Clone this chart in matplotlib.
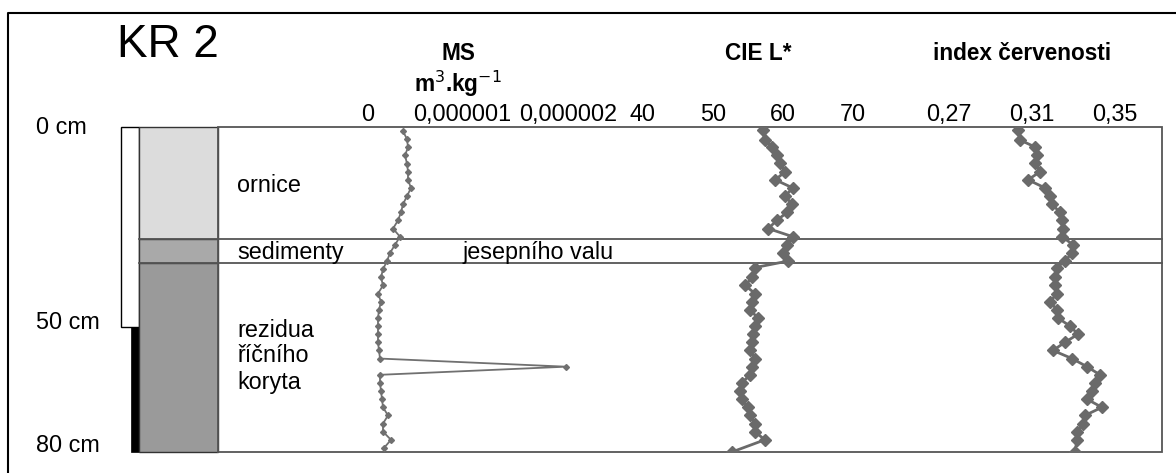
import matplotlib
matplotlib.use('Agg')
import matplotlib.pyplot as plt
from matplotlib.patches import Rectangle
from matplotlib.transforms import ScaledTranslation

plt.rcParams['font.family'] = ['Liberation Sans', 'DejaVu Sans']

# depth of samples (cm)
depth = [1, 3, 5, 7, 9, 11, 13, 15, 17, 19, 21, 23, 25, 27, 29, 31, 33, 35, 37, 39,
         41, 43, 45, 47, 49, 51, 53, 55, 57, 59, 61, 63, 65, 67, 69, 71, 73, 75, 77, 79]

# magnetic susceptibility (x 1e-6 m3/kg)
ms = [0.35, 0.39, 0.40, 0.37, 0.39, 0.40, 0.40, 0.43, 0.39, 0.35, 0.33, 0.30, 0.25, 0.32,
      0.27, 0.22, 0.19, 0.15, 0.13, 0.15, 0.10, 0.13, 0.11, 0.10, 0.10, 0.10, 0.10, 0.11,
      0.12, 1.98, 0.12, 0.12, 0.13, 0.14, 0.15, 0.20, 0.15, 0.15, 0.23, 0.16]

depth_lab = [0.7, 3.2, 4.9, 6.9, 8.9, 11, 13, 15, 17, 19, 21, 23, 25, 27, 29, 31, 33, 34.6,
             37, 39, 41, 43, 45, 47, 49, 51, 53, 55, 57, 59, 61, 63, 65, 67, 69, 71, 73,
             75, 77, 80]

cie_l = [57.1, 57.4, 58.4, 59.1, 59.6, 60.3, 58.9, 61.4, 60.3, 61.3, 60.6, 59.1, 57.9, 61.4,
         60.6, 60.0, 60.7, 56.0, 55.6, 54.6, 56.0, 55.6, 55.3, 56.4, 56.0, 55.7, 55.6, 55.3,
         56.0, 55.6, 55.3, 54.1, 53.9, 54.1, 55.0, 55.3, 56.0, 56.0, 57.4, 52.7]

redness = [0.3033, 0.3042, 0.3114, 0.3124, 0.3114, 0.3139, 0.3081, 0.3163, 0.3187, 0.3196,
           0.3235, 0.3245, 0.3249, 0.3245, 0.3298, 0.3293, 0.3259, 0.3220, 0.3211, 0.3211,
           0.3220, 0.3187, 0.3220, 0.3225, 0.3283, 0.3322, 0.3259, 0.3201, 0.3293, 0.3365,
           0.3428, 0.3404, 0.3389, 0.3365, 0.3437, 0.3355, 0.3346, 0.3317, 0.3317, 0.3307]

# soil layers: (top, bottom, colour)
layers = [(0, 27.6, '#dcdcdc'), (27.6, 33.5, '#a9a9a9'), (33.5, 80, '#9a9a9a')]
probe_depth = 49.2

ms_ticks = [0, 1e-6, 2e-6]
ms_labels = ['0', '0,000001', '0,000002']
cie_ticks = [40, 50, 60, 70]
cie_labels = ['40', '50', '60', '70']
red_ticks = [0.27, 0.31, 0.35]
red_labels = ['0,27', '0,31', '0,35']

W, H = 1176, 473
TOP, BOT = 127, 452
FS = 16.8
fig = plt.figure(figsize=(W / 100, H / 100), dpi=100)


def fx(x):
    return x / W


def fy(y):
    return 1 - y / H


# background axes: x in pixels, y in depth
bg = fig.add_axes([0, 0, 1, 1])
scale = (BOT - TOP) / 80
bg.set_xlim(0, W)
bg.set_ylim((H - TOP) / scale, -TOP / scale)
bg.axis('off')

# outer frame
bg.plot([8, 8, W + 5], [(H + 5 - TOP) / scale, (13 - TOP) / scale, (13 - TOP) / scale],
        color='black', lw=1.5)

# probe bar
bg.add_patch(Rectangle((121, 0), 18, probe_depth, fc='white', ec='black', lw=1))
bg.add_patch(Rectangle((131, probe_depth), 8, 80 - probe_depth, fc='black', ec='black', lw=0.5))

for top, bot, col in layers:
    bg.add_patch(Rectangle((139, top), 79, bot - top, fc=col, ec='#333333', lw=1))

bg.add_patch(Rectangle((218, 0), 1162 - 218, 80, fc='none', ec='#555555', lw=1.3))
for top, bot, col in layers[1:]:
    bg.plot([139, 1162], [top, top], color='#555555', lw=1.3)


# data axes
def data_axes(x0, x1):
    ax = fig.add_axes([fx(x0), fy(BOT), (x1 - x0) / W, (BOT - TOP) / H])
    ax.patch.set_alpha(0)
    for s in ax.spines.values():
        s.set_visible(False)
    ax.set_ylim(80, 0)
    ax.set_yticks([])
    ax.xaxis.tick_top()
    ax.tick_params(axis='x', length=0, pad=1, labelsize=FS)
    return ax


ax1 = data_axes(218, 630)
ax1.set_xlim((218 - 368) * 1e-8, (630 - 368) * 1e-8)
ax1.plot([v * 1e-6 for v in ms], depth, color='#707070', lw=1.3, marker='D', ms=3)
ax1.set_xticks(ms_ticks)
ax1.set_xticklabels(ms_labels)
# nudge the middle label left a little, as in the original
lab = ax1.get_xticklabels()[1]
lab.set_transform(lab.get_transform() + ScaledTranslation(-6 / 100, 0, fig.dpi_scale_trans))

ax2 = data_axes(630, 900)
ax2.set_xlim(40 + (630 - 643) / 7, 40 + (900 - 643) / 7)
ax2.plot(cie_l, depth_lab, color='#6a6a6a', lw=2.0, marker='D', ms=6.5)
ax2.set_xticks(cie_ticks)
ax2.set_xticklabels(cie_labels)

ax3 = data_axes(900, 1162)
ax3.set_xlim(0.27 - 49 / 2075, 0.27 + 213 / 2075)
ax3.plot(redness, depth_lab, color='#6a6a6a', lw=2.0, marker='D', ms=6.5)
ax3.set_xticks(red_ticks)
ax3.set_xticklabels(red_labels)

# texts
fig.text(fx(168), fy(45), 'KR 2', fontsize=33, ha='center', va='center')
fig.text(fx(458), fy(53), 'MS', fontsize=FS - 0.5, weight='bold', ha='center', va='center')
fig.text(fx(458), fy(84), r'm$^{3}$.kg$^{-1}$', fontsize=FS - 0.5,
         weight='bold', ha='center', va='center')
fig.text(fx(758), fy(53), 'CIE L*', fontsize=FS - 0.5, weight='bold', ha='center', va='center')
fig.text(fx(1022), fy(53), 'index červenosti', fontsize=FS - 0.5, weight='bold',
         ha='center', va='center')

for txt, y in [('0 cm', 128), ('50 cm', 322), ('80 cm', 445)]:
    fig.text(fx(36), fy(y), txt, fontsize=FS, ha='left', va='center')

fig.text(fx(237), fy(185), 'ornice', fontsize=FS, ha='left', va='center')
fig.text(fx(237), fy(252), 'sedimenty', fontsize=FS, ha='left', va='center')
fig.text(fx(462), fy(252), 'jesepního valu', fontsize=FS, ha='left', va='center')
fig.text(fx(237), fy(330), 'rezidua', fontsize=FS, ha='left', va='center')
fig.text(fx(237), fy(356), 'říčního', fontsize=FS, ha='left', va='center')
fig.text(fx(237), fy(382), 'koryta', fontsize=FS, ha='left', va='center')

fig.savefig('out.png', dpi=100)
